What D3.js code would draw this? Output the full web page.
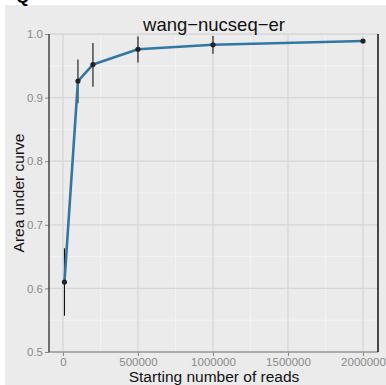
<!DOCTYPE html>
<html>
<head>
<meta charset="utf-8">
<script src="https://cdn.jsdelivr.net/npm/d3@7"></script>
<style>
  html, body { margin: 0; padding: 0; background: #ffffff; }
  svg { display: block; font-family: "Liberation Sans", Arial, Helvetica, sans-serif; }
</style>
</head>
<body>
<svg id="chart" width="386" height="385"></svg>
<script>
// Starting number of reads and the resulting AUC (mean with error range)
const reads = [10000, 100000, 200000, 500000, 1000000, 2000000];
const auc = [0.610, 0.926, 0.952, 0.976, 0.983, 0.989];
const aucLow = [0.557, 0.891, 0.917, 0.955, 0.969, 0.988];
const aucHigh = [0.663, 0.960, 0.986, 0.996, 0.997, 0.990];

const xTicks = [0, 500000, 1000000, 1500000, 2000000];
const xMinor = [250000, 750000, 1250000, 1750000];
const yTicks = [0.5, 0.6, 0.7, 0.8, 0.9, 1.0];
const yMinor = [0.55, 0.65, 0.75, 0.85, 0.95];

const title = "wang\u2212nucseq\u2212er";
const xTitle = "Starting number of reads";
const yTitle = "Area under curve";

const svg = d3.select("#chart");
const W = 386, H = 385;
const panel = { left: 49, right: 378, top: 34, bottom: 352 };

// plot background
svg.append("rect").attr("x", 5).attr("y", 5).attr("width", W - 5).attr("height", H - 5)
  .attr("fill", "#ebebeb");

// panel tag, cut off at the top edge
svg.append("text").attr("x", 16).attr("y", 3).attr("font-size", 17).attr("font-weight", "bold")
  .attr("fill", "#000").text("Q");

const x = d3.scaleLinear().domain([-93000, 2100000]).range([panel.left, panel.right]);
const y = d3.scaleLinear().domain([0.5, 1.0]).range([panel.bottom, panel.top]);

// grid
const grid = svg.append("g");
grid.selectAll("line.ymin").data(yMinor).join("line")
  .attr("x1", panel.left).attr("x2", panel.right)
  .attr("y1", d => y(d)).attr("y2", d => y(d))
  .attr("stroke", "#f4f4f4").attr("stroke-width", 1);
grid.selectAll("line.xmin").data(xMinor).join("line")
  .attr("y1", panel.top).attr("y2", panel.bottom)
  .attr("x1", d => x(d)).attr("x2", d => x(d))
  .attr("stroke", "#f4f4f4").attr("stroke-width", 1);
grid.selectAll("line.ymaj").data(yTicks).join("line")
  .attr("x1", panel.left).attr("x2", panel.right)
  .attr("y1", d => y(d)).attr("y2", d => y(d))
  .attr("stroke", "#d6d6d6").attr("stroke-width", 1.3);
grid.selectAll("line.xmaj").data(xTicks).join("line")
  .attr("y1", panel.top).attr("y2", panel.bottom)
  .attr("x1", d => x(d)).attr("x2", d => x(d))
  .attr("stroke", "#d6d6d6").attr("stroke-width", 1.3);

// axes
const yAxis = svg.append("g").attr("transform", `translate(${panel.left},0)`)
  .call(d3.axisLeft(y).tickValues(yTicks).tickFormat(d3.format(".1f")).tickSize(4).tickPadding(2));
yAxis.select(".domain").remove();
yAxis.selectAll(".tick line").attr("stroke", "#888");
yAxis.selectAll(".tick text").attr("fill", "#8a8a8a").attr("font-size", 11.5)
  .attr("font-family", "Liberation Sans, Arial, sans-serif");

const xAxis = svg.append("g").attr("transform", `translate(0,${panel.bottom})`)
  .call(d3.axisBottom(x).tickValues(xTicks).tickFormat(d3.format("d")).tickSize(4).tickPadding(2));
xAxis.select(".domain").remove();
xAxis.selectAll(".tick line").attr("stroke", "#888");
xAxis.selectAll(".tick text").attr("fill", "#8a8a8a").attr("font-size", 11.5)
  .attr("font-family", "Liberation Sans, Arial, sans-serif");

// axis lines
svg.append("line").attr("x1", panel.left).attr("x2", panel.right)
  .attr("y1", panel.bottom).attr("y2", panel.bottom)
  .attr("stroke", "#9a9a9a").attr("stroke-width", 1.3);
svg.append("line").attr("x1", panel.left).attr("x2", panel.left)
  .attr("y1", panel.top).attr("y2", panel.bottom)
  .attr("stroke", "#444").attr("stroke-width", 1.5);
svg.append("line").attr("x1", panel.right).attr("x2", panel.right)
  .attr("y1", panel.top).attr("y2", panel.bottom)
  .attr("stroke", "#111").attr("stroke-width", 1.5);

// error bars
svg.append("g").selectAll("line").data(reads).join("line")
  .attr("x1", d => x(d)).attr("x2", d => x(d))
  .attr("y1", (d, i) => y(aucLow[i])).attr("y2", (d, i) => y(aucHigh[i]))
  .attr("stroke", "#111").attr("stroke-width", 1.1);

// line
const line = d3.line().x((d, i) => x(reads[i])).y((d, i) => y(auc[i]));
svg.append("path").datum(auc).attr("d", line)
  .attr("fill", "none").attr("stroke", "#3177a5").attr("stroke-width", 2.6)
  .attr("stroke-linejoin", "round");

// points
svg.append("g").selectAll("circle").data(auc).join("circle")
  .attr("cx", (d, i) => x(reads[i])).attr("cy", d => y(d)).attr("r", 2.6)
  .attr("fill", "#222");

// titles
svg.append("text").attr("x", 214).attr("y", 31).attr("text-anchor", "middle")
  .attr("font-size", 18.5).attr("fill", "#111").text(title);
svg.append("text").attr("x", 214).attr("y", 382).attr("text-anchor", "middle")
  .attr("font-size", 15.5).attr("fill", "#111").text(xTitle);
svg.append("text").attr("transform", "translate(24,193) rotate(-90)").attr("text-anchor", "middle")
  .attr("font-size", 15.5).attr("fill", "#111").text(yTitle);
</script>
</body>
</html>
